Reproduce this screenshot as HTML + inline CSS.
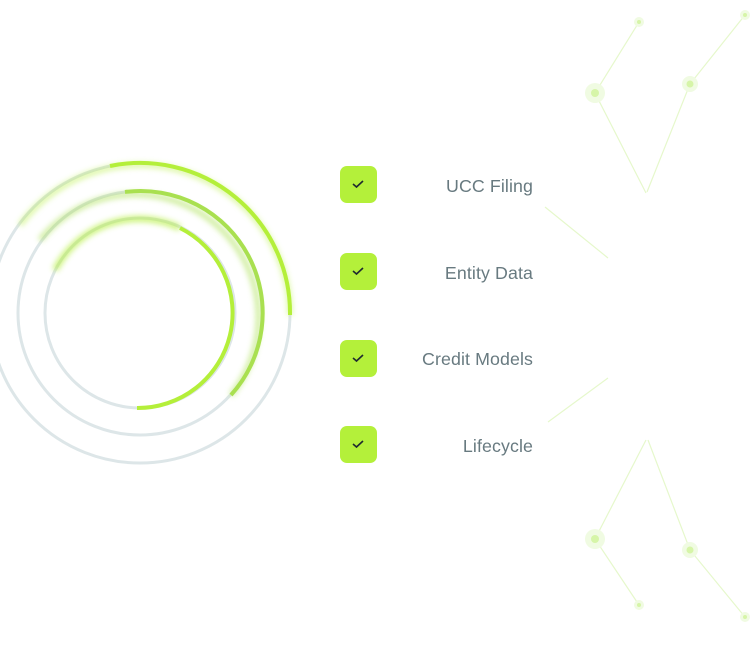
<!DOCTYPE html>
<html><head><style>
body{margin:0;width:750px;height:670px;background:#fff;position:relative;overflow:hidden;font-family:"Liberation Sans",sans-serif}
.cb{position:absolute;left:340px;width:37px;height:37px;border-radius:7px;background:#b4f03a}
.cb svg{position:absolute;left:11px;top:12px}
.t{position:absolute;right:217px;font-size:17.8px;color:#687a80;letter-spacing:0.1px}
</style></head><body>
<svg width="750" height="670" style="position:absolute;left:0;top:0">
<defs><filter id="b" x="-20%" y="-20%" width="140%" height="140%"><feGaussianBlur stdDeviation="3"/></filter></defs>
<g fill="none" stroke-width="3">
<circle cx="140" cy="313" r="150" stroke="#dde6e8"/>
<circle cx="140" cy="313" r="122" stroke="#dde6e8"/>
<circle cx="140" cy="313" r="95" stroke="#dde6e8"/>
<path d="M20 225 A150 150 0 0 1 290 315" stroke="#b4ef3a" stroke-width="5" opacity="0.5" filter="url(#b)"/>
<path d="M110 166 A150 150 0 0 1 290 315" stroke="#b4ef3a" stroke-width="4"/>
<path d="M40 240 A122 122 0 0 1 231 395" stroke="#a9e050" stroke-width="5" opacity="0.6" filter="url(#b)"/>
<path d="M125 192 A122 122 0 0 1 231 395" stroke="#a9e050" stroke-width="4"/>
<path d="M55 270 A95 95 0 0 1 180 228" stroke="#b4ef3a" stroke-width="6" opacity="0.7" filter="url(#b)"/>
<path d="M180 228 A95 95 0 0 1 137 408" stroke="#b4ef3a" stroke-width="4"/>
</g>
<g stroke="#e6f8cc" stroke-width="1.2" fill="none">
<path d="M639 22L595 93L646 193M690 84L647 192M690 84L745 15M545 207L608 258"/>
<path d="M646 440L595 539L639 605M648 440L690 550L745 617M548 422L608 378"/>
</g>
<g fill="#d6f5a8">
<circle cx="595" cy="93" r="10" fill="#f0fbe2"/><circle cx="595" cy="93" r="4"/>
<circle cx="690" cy="84" r="8" fill="#f0fbe2"/><circle cx="690" cy="84" r="3.5"/>
<circle cx="639" cy="22" r="5" fill="#f0fbe2"/><circle cx="639" cy="22" r="2"/>
<circle cx="745" cy="15" r="5" fill="#f0fbe2"/><circle cx="745" cy="15" r="2"/>
<circle cx="595" cy="539" r="10" fill="#f0fbe2"/><circle cx="595" cy="539" r="4"/>
<circle cx="690" cy="550" r="8" fill="#f0fbe2"/><circle cx="690" cy="550" r="3.5"/>
<circle cx="639" cy="605" r="5" fill="#f0fbe2"/><circle cx="639" cy="605" r="2"/>
<circle cx="745" cy="617" r="5" fill="#f0fbe2"/><circle cx="745" cy="617" r="2"/>
</g>
</svg>
<div class="cb" style="top:166px"><svg width="14" height="12"><path d="M2 6L5.5 9L12 3" stroke="#1f2a30" stroke-width="1.6" fill="none"/></svg></div>
<div class="cb" style="top:253px"><svg width="14" height="12"><path d="M2 6L5.5 9L12 3" stroke="#1f2a30" stroke-width="1.6" fill="none"/></svg></div>
<div class="cb" style="top:340px"><svg width="14" height="12"><path d="M2 6L5.5 9L12 3" stroke="#1f2a30" stroke-width="1.6" fill="none"/></svg></div>
<div class="cb" style="top:426px"><svg width="14" height="12"><path d="M2 6L5.5 9L12 3" stroke="#1f2a30" stroke-width="1.6" fill="none"/></svg></div>
<div class="t" style="top:176px">UCC Filing</div>
<div class="t" style="top:263px">Entity Data</div>
<div class="t" style="top:349px">Credit Models</div>
<div class="t" style="top:436px">Lifecycle</div>
</body></html>
